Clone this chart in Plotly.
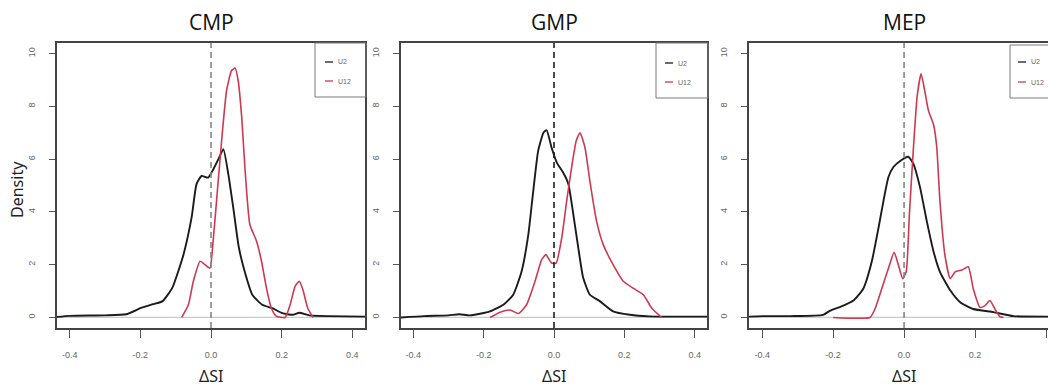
import plotly.graph_objects as go

W, H = 1048, 387

# ---------------- data ----------------
panel_titles = ["CMP", "GMP", "MEP"]
series_names = ["U2", "U12"]
x_tickvals = [-0.4, -0.2, 0.0, 0.2, 0.4]
x_ticktext = ["-0.4", "-0.2", "0.0", "0.2", "0.4"]
y_tickvals = [0, 2, 4, 6, 8, 10]
y_ticktext = ["0", "2", "4", "6", "8", "10"]

cmp_u2_x = [-0.436, -0.40, -0.30, -0.24, -0.20, -0.165, -0.138, -0.11, -0.078, -0.055, -0.041,
            -0.027, -0.008, 0.006, 0.021, 0.035, 0.049, 0.063, 0.079, 0.098, 0.117, 0.145,
            0.174, 0.202, 0.231, 0.25, 0.278, 0.334, 0.436]
cmp_u2_y = [0.02, 0.06, 0.08, 0.12, 0.35, 0.5, 0.61, 1.11, 2.38, 3.78, 5.05,
            5.36, 5.3, 5.6, 6.0, 6.38, 5.43, 4.16, 2.64, 1.62, 0.86, 0.48,
            0.35, 0.16, 0.10, 0.18, 0.08, 0.05, 0.03]
cmp_u12_x = [-0.083, -0.064, -0.05, -0.031, -0.017, -0.003, 0.006, 0.018, 0.03, 0.044, 0.058,
             0.068, 0.077, 0.087, 0.096, 0.11, 0.129, 0.143, 0.157, 0.171, 0.185, 0.21,
             0.224, 0.238, 0.25, 0.26, 0.274, 0.289]
cmp_u12_y = [0.0, 0.48, 1.37, 2.13, 2.0, 1.87, 2.89, 4.79, 6.69, 8.59, 9.35,
             9.45, 8.97, 7.58, 5.68, 3.52, 2.89, 2.13, 1.11, 0.35, 0.05, 0.0,
             0.48, 1.18, 1.37, 1.06, 0.35, 0.0]

gmp_u2_x = [-0.435, -0.37, -0.30, -0.27, -0.24, -0.20, -0.182, -0.144, -0.116, -0.092, -0.073,
            -0.059, -0.045, -0.03, -0.021, -0.007, 0.008, 0.026, 0.041, 0.055, 0.069, 0.083,
            0.102, 0.131, 0.168, 0.216, 0.27, 0.35, 0.435]
gmp_u2_y = [0.0, 0.05, 0.08, 0.12, 0.08, 0.17, 0.23, 0.48, 0.86, 1.75, 3.14,
            4.79, 6.31, 7.0, 7.1, 6.44, 5.87, 5.49, 5.05, 3.9, 2.64, 1.5,
            0.86, 0.61, 0.23, 0.10, 0.04, 0.03, 0.03]
gmp_u12_x = [-0.182, -0.153, -0.125, -0.101, -0.078, -0.054, -0.035, -0.023, -0.007, 0.006,
             0.022, 0.036, 0.05, 0.063, 0.074, 0.088, 0.102, 0.121, 0.14, 0.168, 0.197,
             0.225, 0.254, 0.278, 0.306]
gmp_u12_y = [0.0, 0.2, 0.28, 0.15, 0.48, 1.37, 2.19, 2.38, 2.06, 2.06,
             3.02, 4.41, 5.68, 6.69, 7.0, 6.44, 5.17, 3.65, 2.76, 2.0, 1.37,
             1.11, 0.86, 0.35, 0.0]

mep_u2_x = [-0.437, -0.40, -0.32, -0.228, -0.208, -0.171, -0.143, -0.115, -0.091, -0.072,
            -0.058, -0.044, -0.03, -0.011, 0.012, 0.026, 0.045, 0.064, 0.083, 0.101, 0.13,
            0.158, 0.195, 0.252, 0.308, 0.406]
mep_u2_y = [0.03, 0.05, 0.05, 0.1, 0.26, 0.45, 0.64, 1.09, 2.12, 3.4,
            4.42, 5.32, 5.7, 5.93, 6.09, 5.83, 4.93, 3.65, 2.5, 1.73, 1.03,
            0.58, 0.32, 0.2, 0.05, 0.03]
mep_u12_x = [-0.20, -0.096, -0.082, -0.063, -0.044, -0.028, -0.016, -0.004, 0.006, 0.015,
             0.026, 0.037, 0.048, 0.059, 0.069, 0.083, 0.092, 0.101, 0.115, 0.13, 0.144,
             0.163, 0.181, 0.195, 0.214, 0.228, 0.242, 0.256, 0.27, 0.28]
mep_u12_y = [0.0, 0.0, 0.32, 1.09, 1.86, 2.47, 1.99, 1.47, 1.73, 3.91,
             6.35, 8.4, 9.23, 8.53, 7.82, 7.31, 6.47, 4.42, 2.37, 1.47, 1.73,
             1.8, 1.92, 1.09, 0.38, 0.45, 0.64, 0.32, 0.03, 0.0]

# ---------------- layout helpers ----------------
def px(x):
    return x / W

def py(y):
    return 1 - y / H

BLACK = "#1b1b1b"
RED = "#cc3a50"
TICKFONT = dict(family="Liberation Sans Narrow, Liberation Sans", size=9, color="#666")

panels = [
    dict(u2=(cmp_u2_x, cmp_u2_y), u12=(cmp_u12_x, cmp_u12_y),
         dom=(57, 365), xr=(-0.436, 0.436), vcol="#858585", mirror=True,
         leg=(315, 366, 43, 97, 325, 333, 62, 81, 336)),
    dict(u2=(gmp_u2_x, gmp_u2_y), u12=(gmp_u12_x, gmp_u12_y),
         dom=(401, 707), xr=(-0.435, 0.435), vcol="#1f1f1f", mirror=True,
         leg=(656, 708, 43, 98, 665, 673, 63, 82, 676)),
    dict(u2=(mep_u2_x, mep_u2_y), u12=(mep_u12_x, mep_u12_y),
         dom=(749, 1048), xr=(-0.437, 0.4056), vcol="#858585", mirror=False,
         leg=(1010, 1060, 45, 98, 1018, 1026, 62, 82, 1029)),
]

fig = go.Figure()
shapes = []
annotations = []
ydom = [py(328), py(43)]

for i, p in enumerate(panels):
    k = "" if i == 0 else str(i + 1)
    xa, ya = "x" + k, "y" + k
    fig.add_trace(go.Scatter(x=p["u2"][0], y=p["u2"][1], mode="lines", xaxis=xa, yaxis=ya,
                             line=dict(color=BLACK, width=1.9, shape="spline", smoothing=0.5),
                             name=series_names[0], showlegend=False, hoverinfo="skip"))
    fig.add_trace(go.Scatter(x=p["u12"][0], y=p["u12"][1], mode="lines", xaxis=xa, yaxis=ya,
                             line=dict(color=RED, width=1.6, shape="spline", smoothing=0.5),
                             name=series_names[1], showlegend=False, hoverinfo="skip"))
    axcommon = dict(showgrid=False, zeroline=False, showline=True, linecolor="#444",
                    linewidth=1.5, ticks="outside", tickcolor="#555", tickwidth=1.1,
                    tickfont=TICKFONT)
    fig.update_layout(**{
        "xaxis" + k: dict(axcommon, domain=[px(p["dom"][0]), px(p["dom"][1])], range=list(p["xr"]),
                          anchor=ya, mirror=True, tickvals=x_tickvals, ticktext=x_ticktext,
                          ticklen=8, ticklabelstandoff=9),
        "yaxis" + k: dict(axcommon, domain=ydom, range=[-0.4, 10.4], anchor=xa,
                          mirror=p["mirror"], tickvals=y_tickvals, ticktext=y_ticktext,
                          ticklen=6, tickangle=-90, ticklabelstandoff=11),
    })
    # zero line (gray) and dashed reference line at 0
    shapes.append(dict(type="line", xref=xa + " domain", yref=ya, x0=0, x1=1, y0=0, y1=0,
                       line=dict(color="#c9c9c9", width=1.3), layer="below"))
    shapes.append(dict(type="line", xref=xa, yref=ya + " domain", x0=0, x1=0, y0=0, y1=1,
                       line=dict(color=p["vcol"], width=1.6, dash="6px,4px")))
    # legend box
    lx0, lx1, ly0, ly1, sx0, sx1, sy1, sy2, tx = p["leg"]
    shapes.append(dict(type="rect", xref="paper", yref="paper", x0=px(lx0), x1=px(lx1),
                       y0=py(ly1), y1=py(ly0), line=dict(color="#7a7a7a", width=1),
                       fillcolor="rgba(255,255,255,0)"))
    for sy, col, nm in ((sy1, BLACK, series_names[0]), (sy2, RED, series_names[1])):
        shapes.append(dict(type="line", xref="paper", yref="paper", x0=px(sx0), x1=px(sx1),
                           y0=py(sy), y1=py(sy), line=dict(color=col, width=1.3)))
        annotations.append(dict(xref="paper", yref="paper", x=px(tx), y=py(sy), text=nm,
                                showarrow=False, xanchor="left", yanchor="middle",
                                font=dict(family="Liberation Sans Narrow, Liberation Sans",
                                          size=7, color="#666")))
    # title and x-axis label
    annotations.append(dict(xref=xa, yref="paper", x=0, y=py(22), text=panel_titles[i],
                            showarrow=False, xanchor="center", yanchor="middle",
                            font=dict(family="Open Sans", size=21, color="#111")))
    annotations.append(dict(xref=xa, yref="paper", x=0, y=py(376), text="ΔSI",
                            showarrow=False, xanchor="center", yanchor="middle",
                            font=dict(family="Noto Sans", size=16, color="#222")))

annotations.append(dict(xref="paper", yref="paper", x=px(17), y=py(190), text="Density",
                        showarrow=False, textangle=-90, xanchor="center", yanchor="middle",
                        font=dict(family="Noto Sans", size=16, color="#222")))

fig.update_layout(width=W, height=H, margin=dict(l=0, r=0, t=0, b=0),
                  paper_bgcolor="white", plot_bgcolor="white", showlegend=False,
                  shapes=shapes, annotations=annotations)

fig.write_html("out.html", config={"displayModeBar": False},
               post_script="document.body.style.margin='0';document.body.style.overflow='hidden';")
